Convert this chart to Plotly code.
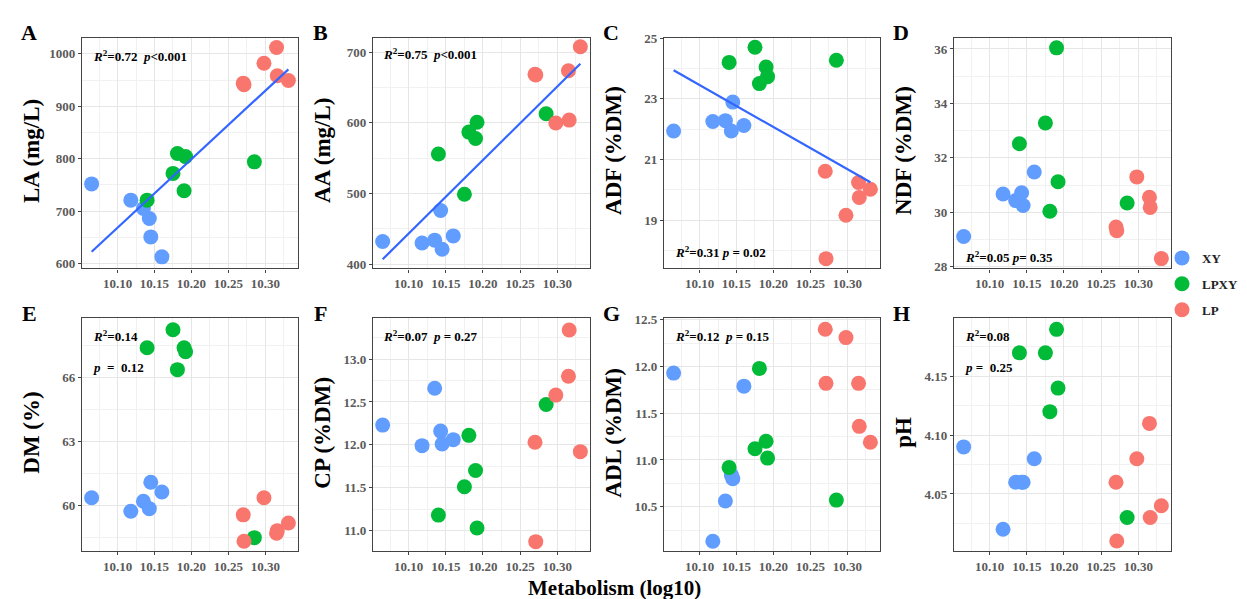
import numpy as np
import plotly.graph_objects as go

W, H = 1247, 599

# ---------------- data ----------------
groups = ["XY", "LPXY", "LP"]
colors = {"XY": "#619CFF", "LPXY": "#00BA38", "LP": "#F8766D"}

x_xy = [10.065, 10.118, 10.135, 10.143, 10.145, 10.160]
x_lpxy = [10.140, 10.175, 10.181, 10.190, 10.192, 10.285]
x_lp = [10.270, 10.271, 10.298, 10.315, 10.316, 10.331]

la_xy = [752, 721, 705, 686, 651, 613]
la_lpxy = [721, 772, 810, 739, 804, 794]
la_lp = [944, 941, 982, 1012, 958, 949]

aa_xy = [432, 430, 434, 476, 421, 440]
aa_lpxy = [556, 499, 587, 578, 601, 613]
aa_lp = [669, 668, 600, 674, 604, 708]

adf_xy = [21.94, 22.25, 22.28, 21.94, 22.89, 22.12]
adf_lpxy = [24.20, 24.70, 23.50, 24.05, 23.73, 24.27]
adf_lp = [20.61, 17.73, 19.16, 20.24, 19.75, 20.02]

ndf_xy = [29.11, 30.67, 30.43, 30.72, 30.25, 31.48]
ndf_lpxy = [32.52, 33.28, 30.04, 36.04, 31.12, 30.34]
ndf_lp = [29.46, 29.32, 31.30, 30.55, 30.18, 28.30]

dm_xy = [60.34, 59.71, 60.18, 59.83, 61.07, 60.61]
dm_lpxy = [67.38, 68.22, 66.35, 67.38, 67.19, 58.47]
dm_lp = [59.54, 58.30, 60.34, 58.68, 58.80, 59.16]

cp_xy = [12.23, 11.99, 12.66, 12.16, 12.01, 12.06]
cp_lpxy = [11.18, 11.51, 12.11, 11.70, 11.03, 12.47]
cp_lp = [12.03, 10.87, 12.58, 12.80, 13.34, 11.92]

adl_xy = [11.93, 10.13, 10.56, 10.84, 10.80, 11.79]
adl_lpxy = [10.92, 11.12, 11.98, 11.20, 11.02, 10.57]
adl_lp = [12.40, 11.82, 12.31, 11.82, 11.36, 11.19]

ph_xy = [4.09, 4.02, 4.06, 4.06, 4.06, 4.08]
ph_lpxy = [4.17, 4.17, 4.12, 4.19, 4.14, 4.03]
ph_lp = [4.06, 4.01, 4.08, 4.11, 4.03, 4.04]

panel_letters = ["A", "B", "C", "D", "E", "F", "G", "H"]
y_titles = ["LA (mg/L)", "AA (mg/L)", "ADF (%DM)", "NDF (%DM)",
            "DM (%)", "CP (%DM)", "ADL (%DM)", "pH"]
stats_text = [
    ["<i>R</i><sup>2</sup>=0.72  <i>p</i>&lt;0.001"],
    ["<i>R</i><sup>2</sup>=0.75  <i>p</i>&lt;0.001"],
    ["<i>R</i><sup>2</sup>=0.31 <i>p</i> = 0.02"],
    ["<i>R</i><sup>2</sup>=0.05 <i>p</i>= 0.35"],
    ["<i>R</i><sup>2</sup>=0.14", "<i>p</i>  =  0.12"],
    ["<i>R</i><sup>2</sup>=0.07  <i>p</i> = 0.27"],
    ["<i>R</i><sup>2</sup>=0.12  <i>p</i> = 0.15"],
    ["<i>R</i><sup>2</sup>=0.08", "<i>p</i> =  0.25"],
]
x_title = "Metabolism (log10)"

panels = [
    (la_xy, la_lpxy, la_lp),
    (aa_xy, aa_lpxy, aa_lp),
    (adf_xy, adf_lpxy, adf_lp),
    (ndf_xy, ndf_lpxy, ndf_lp),
    (dm_xy, dm_lpxy, dm_lp),
    (cp_xy, cp_lpxy, cp_lp),
    (adl_xy, adl_lpxy, adl_lp),
    (ph_xy, ph_lpxy, ph_lp),
]
has_fit = [True, True, True, False, False, False, False, False]

# ---------------- layout geometry (pixels) ----------------
col_px = [(74, 290), (365, 582), (656, 872), (946, 1163)]
row_px = [(23, 259), (310, 548)]
x_range = [10.052, 10.344]
y_ranges = [[591, 1031], [394, 721], [17.41, 25.02], [27.94, 36.42],
            [57.84, 68.76], [10.76, 13.476], [10.024, 12.517], [4.0014, 4.1994]]
y_ticks = [(600, 100, None), (400, 100, None), (19, 2, None), (28, 2, None),
           (60, 3, None), (11.0, 0.5, ".1f"), (10.5, 0.5, ".1f"), (4.0, 0.05, ".2f")]

def fx(px):
    return px / W

def fy(py):
    return 1 - py / H

SERIF = "Liberation Serif"
fig = go.Figure()

x_sets = [x_xy, x_lpxy, x_lp]
for i, ys in enumerate(panels):
    ax = "" if i == 0 else str(i + 1)
    for g, xs, yv in zip(groups, x_sets, ys):
        fig.add_trace(go.Scatter(
            x=xs, y=yv, mode="markers", name=g, legendgroup=g,
            showlegend=(i == 0),
            marker=dict(color=colors[g], size=15, line=dict(width=0)),
            xaxis="x" + ax, yaxis="y" + ax))
    if has_fit[i]:
        allx = np.array(x_xy + x_lpxy + x_lp)
        ally = np.array(list(ys[0]) + list(ys[1]) + list(ys[2]))
        b, a = np.polyfit(allx, ally, 1)
        lx = np.array([allx.min(), allx.max()])
        fig.add_trace(go.Scatter(
            x=lx, y=a + b * lx, mode="lines", showlegend=False,
            line=dict(color="#3366FF", width=2.2),
            xaxis="x" + ax, yaxis="y" + ax))

layout = {}
annotations = []
tickfont = dict(family=SERIF, size=13, color="#5a5a5a", weight="bold")
for i in range(8):
    r, c = divmod(i, 4)
    x0, x1 = col_px[c]
    y0, y1 = row_px[r]
    key = "" if i == 0 else str(i + 1)
    t0, dt, fmt = y_ticks[i]
    layout["xaxis" + key] = dict(
        domain=[fx(x0), fx(x1)], range=x_range, anchor="y" + key,
        tickmode="linear", tick0=10.0, dtick=0.05, tickformat=".2f",
        showline=True, mirror=True, linecolor="#444444", linewidth=1.3,
        ticks="outside", ticklen=3, tickcolor="#444444",
        showgrid=True, gridcolor="#E6E6E6", gridwidth=1,
        minor=dict(dtick=0.025, showgrid=True, gridcolor="#F1F1F1", gridwidth=0.7),
        zeroline=False, tickfont=tickfont)
    ydict = dict(
        domain=[fy(y1), fy(y0)], range=y_ranges[i], anchor="x" + key,
        tickmode="linear", tick0=t0, dtick=dt,
        showline=True, mirror=True, linecolor="#444444", linewidth=1.3,
        ticks="outside", ticklen=3, tickcolor="#444444",
        showgrid=True, gridcolor="#E6E6E6", gridwidth=1,
        minor=dict(dtick=dt / 2, showgrid=True, gridcolor="#F1F1F1", gridwidth=0.7),
        zeroline=False, tickfont=tickfont)
    if fmt:
        ydict["tickformat"] = fmt
    layout["yaxis" + key] = ydict

    # panel letter
    annotations.append(dict(
        text="<b>%s</b>" % panel_letters[i], x=fx(x0 - 53), y=fy(y0 - 5),
        xref="paper", yref="paper", xanchor="center", yanchor="middle",
        showarrow=False, font=dict(family=SERIF, size=22, color="black")))
    # y title
    annotations.append(dict(
        text="<b>%s</b>" % y_titles[i], x=fx(x0 - 50), y=fy((y0 + y1) / 2 - 2),
        xref="paper", yref="paper", xanchor="center", yanchor="middle",
        textangle=-90, showarrow=False,
        font=dict(family=SERIF, size=23, color="black")))

# statistic labels
stat_pos = [(83, 42), (373, 40), (665, 242), (955, 247),
            (83, 328), (373, 328), (665, 328), (955, 328)]
for i, lines in enumerate(stats_text):
    px, py = stat_pos[i]
    for j, ln in enumerate(lines):
        annotations.append(dict(
            text="<b>%s</b>" % ln, x=fx(px), y=fy(py + j * 32),
            xref="paper", yref="paper", xanchor="left", yanchor="middle",
            showarrow=False, font=dict(family=SERIF, size=13, color="black")))

annotations.append(dict(
    text="<b>%s</b>" % x_title, x=fx(606), y=fy(586),
    xref="paper", yref="paper", xanchor="center", yanchor="middle",
    showarrow=False, font=dict(family=SERIF, size=21, color="black")))

fig.update_layout(
    width=W, height=H,
    margin=dict(l=0, r=0, t=0, b=0),
    paper_bgcolor="white", plot_bgcolor="white",
    annotations=annotations,
    legend=dict(x=fx(1154), y=fy(233), xanchor="left", yanchor="top",
                font=dict(family=SERIF, size=13, color="#222222", weight="bold"),
                tracegroupgap=6, bgcolor="rgba(0,0,0,0)", itemwidth=30),
    **layout)

fig.write_html("out.html")
